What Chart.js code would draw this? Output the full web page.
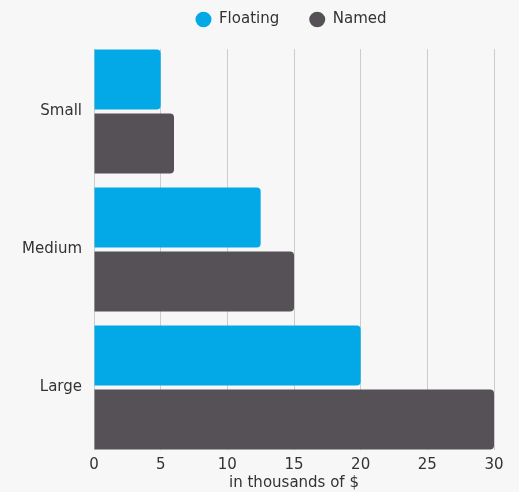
<!DOCTYPE html>
<html>
<head>
<meta charset="utf-8">
<script src="https://cdn.jsdelivr.net/npm/chart.js@4/dist/chart.umd.min.js"></script>
<style>
  html, body { margin: 0; padding: 0; background: #f7f7f7; }
  #wrap { width: 519px; height: 492px; }
</style>
</head>
<body>
<div id="wrap"><canvas id="c" width="519" height="492"></canvas></div>
<script>
const categories = ['Small', 'Medium', 'Large'];
const seriesNames = ['Floating', 'Named'];
const floatingValues = [5, 12.5, 20];
const namedValues = [6, 15, 30];
const xTickValues = [0, 5, 10, 15, 20, 25, 30];
const xTitle = 'in thousands of $';
const seriesColors = ['#03a9e6', '#565157'];

Chart.defaults.font.family = "'DejaVu Sans', sans-serif";
Chart.defaults.font.size = 15;
Chart.defaults.color = '#333333';

const toPoints = vals => vals.map((v, i) => ({ x: v, y: i }));

const legendPlace = {
  id: 'legendPlace',
  afterLayout(chart) {
    const lg = chart.legend;
    const ca = chart.chartArea;
    const dx = (ca.left + ca.right) / 2 - 3 - (lg.left + lg.right) / 2;
    lg.left += dx;
    lg.right += dx;
    const h = lg.height;
    lg.top = -18;
    lg.bottom = lg.top + h;
  }
};

new Chart(document.getElementById('c'), {
  type: 'bar',
  data: {
    datasets: [
      { label: seriesNames[0], data: toPoints(floatingValues), backgroundColor: seriesColors[0], borderWidth: 0, borderRadius: 4 },
      { label: seriesNames[1], data: toPoints(namedValues), backgroundColor: seriesColors[1], borderWidth: 0, borderRadius: 4 }
    ]
  },
  options: {
    indexAxis: 'y',
    responsive: false,
    animation: false,
    categoryPercentage: 0.9275,
    barPercentage: 0.9375,
    layout: { padding: { top: 0, right: 25, bottom: 0, left: 0 } },
    plugins: {
      legend: {
        position: 'top',
        maxHeight: 49,
        labels: {
          usePointStyle: true,
          pointStyle: 'circle',
          pointStyleWidth: 16,
          boxHeight: 11,
          padding: 30,
          color: '#333333',
          font: { size: 15 }
        }
      },
      tooltip: { enabled: false }
    },
    scales: {
      x: {
        type: 'linear',
        position: 'bottom',
        min: 0,
        max: 30,
        afterBuildTicks: s => { s.ticks = xTickValues.map(v => ({ value: v })); },
        afterFit: s => { s.height = 42; },
        grid: { color: '#cccccc', lineWidth: 1, drawTicks: false },
        border: { display: false },
        ticks: { padding: 6, color: '#333333', font: { size: 15 } },
        title: { display: true, text: xTitle, color: '#333333', font: { size: 15 }, padding: { top: 0, bottom: 0 } }
      },
      y: {
        type: 'linear',
        position: 'left',
        reverse: true,
        offset: false,
        min: -0.453,
        max: 2.453,
        afterBuildTicks: s => { s.ticks = categories.map((c, i) => ({ value: i })); },
        afterFit: s => { s.width = 94; },
        grid: { display: false, drawTicks: false, offset: false },
        border: { display: false },
        ticks: { padding: 12, color: '#333333', font: { size: 15 }, callback: v => categories[v] }
      }
    }
  },
  plugins: [legendPlace]
});
</script>
</body>
</html>
